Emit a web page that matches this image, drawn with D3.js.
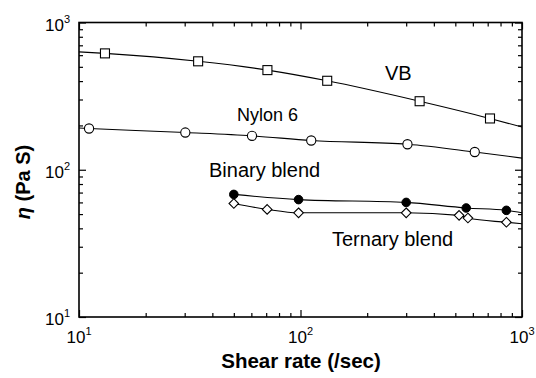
<!DOCTYPE html>
<html>
<head>
<meta charset="utf-8">
<script src="https://cdn.jsdelivr.net/npm/d3@7/dist/d3.min.js"></script>
<style>
  html, body { margin: 0; padding: 0; background: #fff; }
  svg { display: block; font-family: "Liberation Sans", Arial, sans-serif; }
</style>
</head>
<body>
<svg id="chart" width="536" height="378"></svg>
<script>
// ---- data ----
const vbX = [13.1, 34.5, 70.9, 132, 345, 717];
const vbY = [617, 545, 475, 402, 292, 223];
const vbFitX = [10, 13.1, 34.5, 70.9, 132, 345, 717, 1000];
const vbFitY = [632, 617, 545, 475, 402, 292, 223, 195];

const nyX = [11.1, 30.2, 60.4, 111.8, 304, 612];
const nyY = [190.6, 179, 170, 158, 149, 132];
const nyFitX = [10, 11.1, 30.2, 60.4, 111.8, 304, 612, 1000];
const nyFitY = [192, 190.6, 179, 170, 158, 149, 132, 120];

const biX = [50, 98, 300, 560, 850];
const biY = [68, 62.7, 60, 55, 53];
const biFitX = [50, 98, 300, 560, 850, 1000];
const biFitY = [68, 62.7, 60, 55, 53, 51];

const teX = [50, 70.7, 98, 300, 520, 570, 850];
const teY = [59, 53.8, 51, 51, 49, 47, 44];
const teFitX = [50, 70.7, 98, 300, 520, 570, 850, 1000];
const teFitY = [59, 53.8, 51, 51, 49, 47, 44, 43];

const xMajor = [10, 100, 1000];
const yMajor = [10, 100, 1000];
const xTickLabels = ["1", "2", "3"];   // exponents of 10
const yTickLabels = ["1", "2", "3"];
const xTitle = "Shear rate (/sec)";
const yTitleSym = "\u03B7";
const yTitleRest = " (Pa S)";
const seriesNames = ["VB", "Nylon 6", "Binary blend", "Ternary blend"];

// ---- layout ----
const svg = d3.select("#chart");
const L = 79, R = 522, T = 22.5, B = 317;
const x = d3.scaleLog().domain([10, 1000]).range([L, R]);
const y = d3.scaleLog().domain([10, 1000]).range([B, T]);

const minor = [];
for (let d = 10; d < 1000; d *= 10) for (let k = 2; k <= 9; k++) minor.push(d * k);

function axisStyle(g) {
  g.selectAll(".domain").remove();
  g.selectAll("line").attr("stroke", "#000").attr("stroke-width", 1.2);
}
svg.append("g").attr("transform", `translate(0,${B})`)
  .call(d3.axisBottom(x).tickValues(minor).tickSize(-4).tickFormat("")).call(axisStyle);
svg.append("g").attr("transform", `translate(0,${B})`)
  .call(d3.axisBottom(x).tickValues(xMajor).tickSize(-7).tickFormat("")).call(axisStyle);
svg.append("g").attr("transform", `translate(0,${T})`)
  .call(d3.axisTop(x).tickValues(minor).tickSize(-4).tickFormat("")).call(axisStyle);
svg.append("g").attr("transform", `translate(0,${T})`)
  .call(d3.axisTop(x).tickValues(xMajor).tickSize(-7).tickFormat("")).call(axisStyle);
svg.append("g").attr("transform", `translate(${L},0)`)
  .call(d3.axisLeft(y).tickValues(minor).tickSize(-4).tickFormat("")).call(axisStyle);
svg.append("g").attr("transform", `translate(${L},0)`)
  .call(d3.axisLeft(y).tickValues(yMajor).tickSize(-7).tickFormat("")).call(axisStyle);
svg.append("g").attr("transform", `translate(${R},0)`)
  .call(d3.axisRight(y).tickValues(minor).tickSize(-4).tickFormat("")).call(axisStyle);
svg.append("g").attr("transform", `translate(${R},0)`)
  .call(d3.axisRight(y).tickValues(yMajor).tickSize(-7).tickFormat("")).call(axisStyle);

svg.append("rect").attr("x", L).attr("y", T).attr("width", R - L).attr("height", B - T)
  .attr("fill", "none").attr("stroke", "#000").attr("stroke-width", 1.6);

xMajor.forEach((v, i) => {
  const t = svg.append("text").attr("x", x(v)).attr("y", B + 26)
    .attr("text-anchor", "middle").attr("font-size", 17).attr("fill", "#000");
  t.append("tspan").text("10");
  t.append("tspan").attr("font-size", 11).attr("dy", -8).text(xTickLabels[i]);
});
yMajor.forEach((v, i) => {
  const t = svg.append("text").attr("x", L - 9).attr("y", y(v) + 8)
    .attr("text-anchor", "end").attr("font-size", 17).attr("fill", "#000");
  t.append("tspan").text("10");
  t.append("tspan").attr("font-size", 11).attr("dy", -8).text(yTickLabels[i]);
});

svg.append("text").attr("x", 301).attr("y", 368).attr("text-anchor", "middle")
  .attr("font-size", 20.5).attr("font-weight", "bold").text(xTitle);
const yt = svg.append("text").attr("transform", "translate(30,182) rotate(-90)")
  .attr("text-anchor", "middle").attr("font-size", 20).attr("font-weight", "bold");
yt.append("tspan").attr("font-style", "italic").text(yTitleSym);
yt.append("tspan").text(yTitleRest);

const line = d3.line().x(d => x(d[0])).y(d => y(d[1])).curve(d3.curveMonotoneX);
const fits = [[vbFitX, vbFitY], [nyFitX, nyFitY], [biFitX, biFitY], [teFitX, teFitY]];
fits.forEach(([xs, ys]) => {
  svg.append("path").datum(xs.map((v, i) => [v, ys[i]]))
    .attr("d", line).attr("fill", "none").attr("stroke", "#000").attr("stroke-width", 1.1);
});

const mk = (xs, ys) => xs.map((v, i) => [x(v), y(ys[i])]);
svg.append("g").selectAll("rect").data(mk(vbX, vbY)).join("rect")
  .attr("x", d => d[0] - 4.5).attr("y", d => d[1] - 4.5).attr("width", 9).attr("height", 9)
  .attr("fill", "#fff").attr("stroke", "#000").attr("stroke-width", 1.1);
svg.append("g").selectAll("circle").data(mk(nyX, nyY)).join("circle")
  .attr("cx", d => d[0]).attr("cy", d => d[1]).attr("r", 4.6)
  .attr("fill", "#fff").attr("stroke", "#000").attr("stroke-width", 1.1);
svg.append("g").selectAll("path").data(mk(teX, teY)).join("path")
  .attr("d", d => `M${d[0]},${d[1] - 4.8}L${d[0] + 4.8},${d[1]}L${d[0]},${d[1] + 4.8}L${d[0] - 4.8},${d[1]}Z`)
  .attr("fill", "#fff").attr("stroke", "#000").attr("stroke-width", 1.1);
svg.append("g").selectAll("circle").data(mk(biX, biY)).join("circle")
  .attr("cx", d => d[0]).attr("cy", d => d[1]).attr("r", 4.3)
  .attr("fill", "#000").attr("stroke", "#000").attr("stroke-width", 1);

const labelPos = [[385, 80, 20], [237, 121, 18], [209, 177, 20], [332, 246, 20]];
seriesNames.forEach((n, i) => {
  svg.append("text").attr("x", labelPos[i][0]).attr("y", labelPos[i][1])
    .attr("font-size", labelPos[i][2]).attr("fill", "#000").text(n);
});
</script>
</body>
</html>
